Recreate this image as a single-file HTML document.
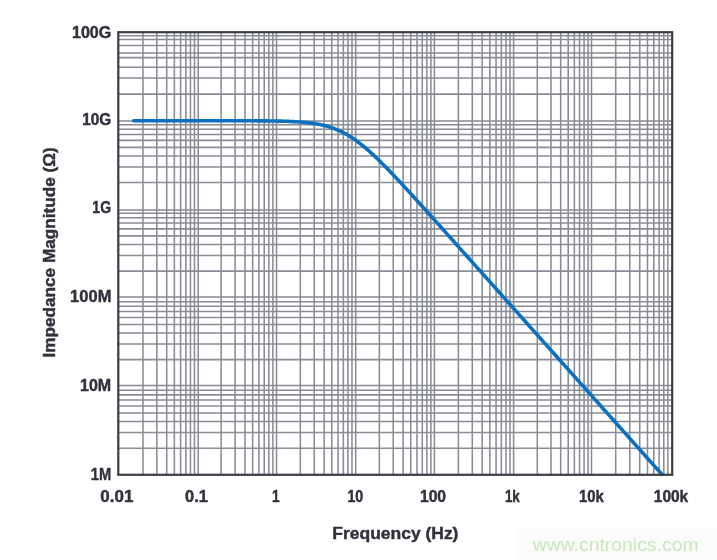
<!DOCTYPE html>
<html lang="en"><head><meta charset="utf-8"><title>Impedance Magnitude vs Frequency</title>
<style>html,body{margin:0;padding:0;background:#fff;overflow:hidden}body{width:717px;height:560px;position:relative}</style>
</head><body>
<svg width="717" height="560" viewBox="0 0 717 560" style="position:absolute;left:0;top:0;display:block">
<rect x="0" y="0" width="717" height="560" fill="#ffffff"/>
<rect x="517" y="529" width="200" height="31" fill="#fbfbfa"/>
<path d="M142.95 32.20V474.80M156.84 32.20V474.80M166.70 32.20V474.80M174.35 32.20V474.80M180.60 32.20V474.80M185.88 32.20V474.80M190.45 32.20V474.80M194.49 32.20V474.80M221.14 32.20V474.80M235.09 32.20V474.80M244.98 32.20V474.80M252.66 32.20V474.80M258.93 32.20V474.80M264.23 32.20V474.80M268.82 32.20V474.80M272.88 32.20V474.80M300.31 32.20V474.80M314.24 32.20V474.80M324.12 32.20V474.80M331.79 32.20V474.80M338.05 32.20V474.80M343.35 32.20V474.80M347.93 32.20V474.80M351.98 32.20V474.80M379.35 32.20V474.80M393.24 32.20V474.80M403.10 32.20V474.80M410.75 32.20V474.80M417.00 32.20V474.80M422.28 32.20V474.80M426.85 32.20V474.80M430.89 32.20V474.80M458.38 32.20V474.80M472.29 32.20V474.80M482.16 32.20V474.80M489.82 32.20V474.80M496.07 32.20V474.80M501.36 32.20V474.80M505.94 32.20V474.80M509.99 32.20V474.80M537.29 32.20V474.80M550.97 32.20V474.80M560.68 32.20V474.80M568.21 32.20V474.80M574.36 32.20V474.80M579.56 32.20V474.80M584.07 32.20V474.80M588.04 32.20V474.80M615.72 32.20V474.80M629.77 32.20V474.80M639.74 32.20V474.80M647.48 32.20V474.80M653.80 32.20V474.80M659.14 32.20V474.80M663.77 32.20V474.80M667.85 32.20V474.80M198.20 32.20V474.80M276.50 32.20V474.80M355.70 32.20V474.80M434.40 32.20V474.80M513.60 32.20V474.80M591.50 32.20V474.80M118.30 448.15H672.20M118.30 432.57H672.20M118.30 421.51H672.20M118.30 412.93H672.20M118.30 405.92H672.20M118.30 399.99H672.20M118.30 394.86H672.20M118.30 390.33H672.20M118.30 359.63H672.20M118.30 344.05H672.20M118.30 332.99H672.20M118.30 324.41H672.20M118.30 317.40H672.20M118.30 311.47H672.20M118.30 306.34H672.20M118.30 301.81H672.20M118.30 271.11H672.20M118.30 255.53H672.20M118.30 244.47H672.20M118.30 235.89H672.20M118.30 228.88H672.20M118.30 222.95H672.20M118.30 217.82H672.20M118.30 213.29H672.20M118.30 182.59H672.20M118.30 167.01H672.20M118.30 155.95H672.20M118.30 147.37H672.20M118.30 140.36H672.20M118.30 134.43H672.20M118.30 129.30H672.20M118.30 124.77H672.20M118.30 94.10H672.20M118.30 78.00H672.20M118.30 67.30H672.20M118.30 57.60H672.20M118.30 53.00H672.20M118.30 45.50H672.20M118.30 39.50H672.20M118.30 35.80H672.20M118.30 120.90H672.20M118.30 209.90H672.20M118.30 297.00H672.20M118.30 385.50H672.20" fill="none" stroke="#8a8c95" stroke-width="1.55"/>
<path d="M133.60 120.72 L135.36 120.72 L137.12 120.72 L138.88 120.72 L140.64 120.72 L142.40 120.72 L144.16 120.72 L145.92 120.72 L147.68 120.72 L149.44 120.72 L151.21 120.72 L152.97 120.72 L154.73 120.72 L156.49 120.72 L158.25 120.72 L160.01 120.72 L161.77 120.72 L163.53 120.72 L165.29 120.72 L167.05 120.72 L168.81 120.72 L170.57 120.72 L172.33 120.72 L174.09 120.72 L175.85 120.72 L177.61 120.72 L179.37 120.72 L181.13 120.72 L182.89 120.72 L184.66 120.72 L186.42 120.72 L188.18 120.72 L189.94 120.72 L191.70 120.72 L193.46 120.72 L195.22 120.72 L196.98 120.72 L198.74 120.72 L200.50 120.72 L202.26 120.72 L204.02 120.72 L205.78 120.73 L207.54 120.73 L209.30 120.73 L211.06 120.73 L212.82 120.73 L214.58 120.73 L216.34 120.73 L218.11 120.73 L219.87 120.73 L221.63 120.73 L223.39 120.74 L225.15 120.74 L226.91 120.74 L228.67 120.74 L230.43 120.74 L232.19 120.75 L233.95 120.75 L235.71 120.75 L237.47 120.75 L239.23 120.76 L240.99 120.76 L242.75 120.77 L244.51 120.77 L246.27 120.78 L248.03 120.78 L249.79 120.79 L251.56 120.80 L253.32 120.81 L255.08 120.82 L256.84 120.83 L258.60 120.84 L260.36 120.85 L262.12 120.87 L263.88 120.88 L265.64 120.90 L267.40 120.92 L269.16 120.94 L270.92 120.96 L272.68 120.99 L274.44 121.02 L276.20 121.05 L277.96 121.08 L279.72 121.12 L281.48 121.17 L283.24 121.21 L285.01 121.27 L286.77 121.32 L288.53 121.39 L290.29 121.46 L292.05 121.54 L293.81 121.62 L295.57 121.72 L297.33 121.82 L299.09 121.94 L300.85 122.07 L302.61 122.21 L304.37 122.36 L306.13 122.53 L307.89 122.71 L309.65 122.92 L311.41 123.14 L313.17 123.38 L314.93 123.65 L316.69 123.94 L318.46 124.26 L320.22 124.60 L321.98 124.98 L323.74 125.39 L325.50 125.83 L327.26 126.31 L329.02 126.82 L330.78 127.38 L332.54 127.98 L334.30 128.62 L336.06 129.31 L337.82 130.04 L339.58 130.82 L341.34 131.65 L343.10 132.53 L344.86 133.46 L346.62 134.44 L348.38 135.47 L350.14 136.55 L351.91 137.69 L353.67 138.87 L355.43 140.09 L357.19 141.37 L358.95 142.69 L360.71 144.05 L362.47 145.46 L364.23 146.90 L365.99 148.39 L367.75 149.91 L369.51 151.46 L371.27 153.05 L373.03 154.67 L374.79 156.32 L376.55 157.99 L378.31 159.69 L380.07 161.41 L381.83 163.16 L383.59 164.92 L385.36 166.70 L387.12 168.50 L388.88 170.32 L390.64 172.14 L392.40 173.98 L394.16 175.84 L395.92 177.70 L397.68 179.57 L399.44 181.46 L401.20 183.35 L402.96 185.25 L404.72 187.15 L406.48 189.06 L408.24 190.98 L410.00 192.90 L411.76 194.83 L413.52 196.76 L415.28 198.69 L417.04 200.63 L418.81 202.57 L420.57 204.52 L422.33 206.46 L424.09 208.41 L425.85 210.36 L427.61 212.32 L429.37 214.27 L431.13 216.23 L432.89 218.18 L434.65 220.14 L436.41 222.10 L438.17 224.06 L439.93 226.02 L441.69 227.99 L443.45 229.95 L445.21 231.91 L446.97 233.88 L448.73 235.84 L450.49 237.81 L452.26 239.78 L454.02 241.74 L455.78 243.71 L457.54 245.68 L459.30 247.64 L461.06 249.61 L462.82 251.58 L464.58 253.55 L466.34 255.52 L468.10 257.49 L469.86 259.46 L471.62 261.42 L473.38 263.39 L475.14 265.36 L476.90 267.33 L478.66 269.30 L480.42 271.27 L482.18 273.24 L483.94 275.21 L485.71 277.18 L487.47 279.15 L489.23 281.12 L490.99 283.09 L492.75 285.06 L494.51 287.03 L496.27 289.00 L498.03 290.97 L499.79 292.94 L501.55 294.91 L503.31 296.88 L505.07 298.85 L506.83 300.82 L508.59 302.79 L510.35 304.76 L512.11 306.73 L513.87 308.70 L515.63 310.67 L517.39 312.64 L519.16 314.61 L520.92 316.58 L522.68 318.56 L524.44 320.53 L526.20 322.50 L527.96 324.47 L529.72 326.44 L531.48 328.41 L533.24 330.38 L535.00 332.35 L536.76 334.32 L538.52 336.29 L540.28 338.26 L542.04 340.23 L543.80 342.20 L545.56 344.17 L547.32 346.14 L549.08 348.11 L550.84 350.08 L552.61 352.05 L554.37 354.02 L556.13 355.99 L557.89 357.96 L559.65 359.93 L561.41 361.90 L563.17 363.87 L564.93 365.85 L566.69 367.82 L568.45 369.79 L570.21 371.76 L571.97 373.73 L573.73 375.70 L575.49 377.67 L577.25 379.64 L579.01 381.61 L580.77 383.58 L582.53 385.55 L584.29 387.52 L586.06 389.49 L587.82 391.46 L589.58 393.43 L591.34 395.40 L593.10 397.37 L594.86 399.34 L596.62 401.31 L598.38 403.28 L600.14 405.25 L601.90 407.22 L603.66 409.19 L605.42 411.17 L607.18 413.14 L608.94 415.11 L610.70 417.08 L612.46 419.05 L614.22 421.02 L615.98 422.99 L617.74 424.96 L619.51 426.93 L621.27 428.90 L623.03 430.87 L624.79 432.84 L626.55 434.81 L628.31 436.78 L630.07 438.75 L631.83 440.72 L633.59 442.69 L635.35 444.66 L637.11 446.63 L638.87 448.60 L640.63 450.57 L642.39 452.54 L644.15 454.51 L645.91 456.49 L647.67 458.46 L649.43 460.43 L651.19 462.40 L652.96 464.37 L654.72 466.34 L656.48 468.31 L658.24 470.28 L660.00 472.25 L661.76 474.22" fill="none" stroke="#0b70c0" stroke-width="3.6" stroke-linecap="round" stroke-linejoin="round"/>
<rect x="118.3" y="32.2" width="553.90" height="442.60" fill="none" stroke="#3a3c47" stroke-width="2.2"/>
<text transform="translate(100.32 501.90) scale(1.0152 1)" font-family="Liberation Sans, Arial, Helvetica, sans-serif" font-weight="700" font-size="16.71" fill="#30323c" stroke="#30323c" stroke-width="0.45" stroke-linejoin="round">0.01</text>
<text transform="translate(185.05 501.90) scale(0.9790 1)" font-family="Liberation Sans, Arial, Helvetica, sans-serif" font-weight="700" font-size="16.71" fill="#30323c" stroke="#30323c" stroke-width="0.45" stroke-linejoin="round">0.1</text>
<text transform="translate(272.08 501.90) scale(0.8147 1)" font-family="Liberation Sans, Arial, Helvetica, sans-serif" font-weight="700" font-size="16.71" fill="#30323c" stroke="#30323c" stroke-width="0.45" stroke-linejoin="round">1</text>
<text transform="translate(347.44 501.90) scale(0.8530 1)" font-family="Liberation Sans, Arial, Helvetica, sans-serif" font-weight="700" font-size="16.71" fill="#30323c" stroke="#30323c" stroke-width="0.45" stroke-linejoin="round">10</text>
<text transform="translate(419.96 501.90) scale(0.9374 1)" font-family="Liberation Sans, Arial, Helvetica, sans-serif" font-weight="700" font-size="16.71" fill="#30323c" stroke="#30323c" stroke-width="0.45" stroke-linejoin="round">100</text>
<text transform="translate(504.90 501.90) scale(0.7977 1)" font-family="Liberation Sans, Arial, Helvetica, sans-serif" font-weight="700" font-size="16.71" fill="#30323c" stroke="#30323c" stroke-width="0.45" stroke-linejoin="round">1k</text>
<text transform="translate(579.01 501.90) scale(0.8919 1)" font-family="Liberation Sans, Arial, Helvetica, sans-serif" font-weight="700" font-size="16.71" fill="#30323c" stroke="#30323c" stroke-width="0.45" stroke-linejoin="round">10k</text>
<text transform="translate(653.77 501.90) scale(0.9279 1)" font-family="Liberation Sans, Arial, Helvetica, sans-serif" font-weight="700" font-size="16.71" fill="#30323c" stroke="#30323c" stroke-width="0.45" stroke-linejoin="round">100k</text>
<text transform="translate(71.94 38.00) scale(0.9538 1)" font-family="Liberation Sans, Arial, Helvetica, sans-serif" font-weight="700" font-size="16.86" fill="#30323c" stroke="#30323c" stroke-width="0.45" stroke-linejoin="round">100G</text>
<text transform="translate(82.18 124.70) scale(0.9083 1)" font-family="Liberation Sans, Arial, Helvetica, sans-serif" font-weight="700" font-size="16.86" fill="#30323c" stroke="#30323c" stroke-width="0.45" stroke-linejoin="round">10G</text>
<text transform="translate(92.36 213.40) scale(0.8335 1)" font-family="Liberation Sans, Arial, Helvetica, sans-serif" font-weight="700" font-size="16.86" fill="#30323c" stroke="#30323c" stroke-width="0.45" stroke-linejoin="round">1G</text>
<text transform="translate(70.11 302.10) scale(0.9787 1)" font-family="Liberation Sans, Arial, Helvetica, sans-serif" font-weight="700" font-size="16.86" fill="#30323c" stroke="#30323c" stroke-width="0.45" stroke-linejoin="round">100M</text>
<text transform="translate(80.04 390.80) scale(0.9518 1)" font-family="Liberation Sans, Arial, Helvetica, sans-serif" font-weight="700" font-size="16.86" fill="#30323c" stroke="#30323c" stroke-width="0.45" stroke-linejoin="round">10M</text>
<text transform="translate(90.82 480.40) scale(0.8710 1)" font-family="Liberation Sans, Arial, Helvetica, sans-serif" font-weight="700" font-size="16.86" fill="#30323c" stroke="#30323c" stroke-width="0.45" stroke-linejoin="round">1M</text>
<text transform="translate(332.28 538.60) scale(1.0050 1)" font-family="Liberation Sans, Arial, Helvetica, sans-serif" font-weight="700" font-size="17.39" fill="#30323c" stroke="#30323c" stroke-width="0.45" stroke-linejoin="round">Frequency (Hz)</text>
<text transform="translate(55.1 357.50) rotate(-90) scale(1.0308 1)" font-family="Liberation Sans, Arial, Helvetica, sans-serif" font-weight="700" font-size="16.67" fill="#30323c" stroke="#30323c" stroke-width="0.45" stroke-linejoin="round">Impedance Magnitude (Ω)</text>
<text transform="translate(532.70 550.9) scale(1.0204 1)" font-family="Liberation Sans, Arial, Helvetica, sans-serif" font-size="19" fill="#c7e7be">www.cntronics.com</text>
</svg>
</body></html>
